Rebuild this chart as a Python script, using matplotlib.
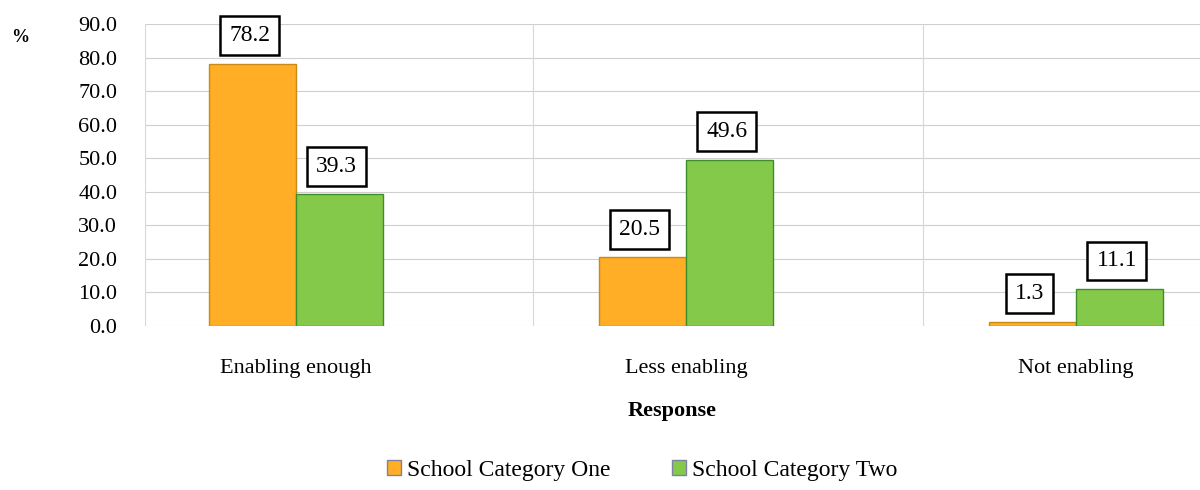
import numpy as np
from matplotlib import pyplot as plt
from matplotlib.patches import Patch

categories = ["Enabling enough", "Less enabling", "Not enabling"]
cat_one = [78.2, 20.5, 1.3]
cat_two = [39.3, 49.6, 11.1]
series_names = ["School Category One", "School Category Two"]
y_ticks = [0, 10, 20, 30, 40, 50, 60, 70, 80, 90]

plt.rcParams['font.family'] = ['Liberation Serif', 'DejaVu Serif']

orange = '#FFAE26'
green = '#84C94A'

fig = plt.figure(figsize=(12, 4.9), dpi=100)
ax = fig.add_axes([145 / 1200, 1 - 326 / 490, 1055 / 1200, 302 / 490])

x = np.arange(len(categories))
w = 0.223
b1 = ax.bar(x - w / 2, cat_one, w, color=orange, edgecolor='#C98A1A', linewidth=1)
b2 = ax.bar(x + w / 2, cat_two, w, color=green, edgecolor='#3E8E2A', linewidth=1)

# boxed value labels above each bar
for bars, vals in ((b1, cat_one), (b2, cat_two)):
    for rect, v in zip(bars, vals):
        ax.annotate(f"{v:.1f}", (rect.get_x() + rect.get_width() / 2, v),
                    xytext=(-2, 20), textcoords='offset points',
                    ha='center', va='center', fontsize=17,
                    bbox=dict(boxstyle='square,pad=0.38', fc='white', ec='black', lw=1.8))

ax.set_xlim(-0.387, 2.318)
ax.set_ylim(0, 90)
ax.set_yticks(y_ticks)
ax.set_yticklabels([f"{t:.1f}" for t in y_ticks], fontsize=16)
ax.set_xticks(x)
ax.set_xticklabels(categories, fontsize=16)
ax.tick_params(length=0, pad=24)
ax.tick_params(axis='y', pad=20)

# grid lines
for t in y_ticks:
    ax.axhline(t, color='#cfcfcf', lw=0.8, zorder=0)
for gx in [-0.387, 0.608, 1.608]:
    ax.axvline(gx, color='#d8d8d8', lw=0.8, zorder=0)
for s in ax.spines.values():
    s.set_visible(False)

ax.set_xlabel("Response", fontsize=16, fontweight='bold', labelpad=16)
fig.text(20 / 1200, 1 - 38 / 490, "%", fontsize=13, fontweight='bold', ha='center', va='center')

handles = [Patch(facecolor=orange, edgecolor='#8080a0'), Patch(facecolor=green, edgecolor='#8080a0')]
fig.legend(handles, series_names, loc='center', bbox_to_anchor=(0.535, 1 - 470 / 490),
           ncol=2, frameon=False, fontsize=17, handlelength=0.6, handleheight=0.6,
           handletextpad=0.25, columnspacing=2.6)

fig.savefig("out.png", dpi=100)
